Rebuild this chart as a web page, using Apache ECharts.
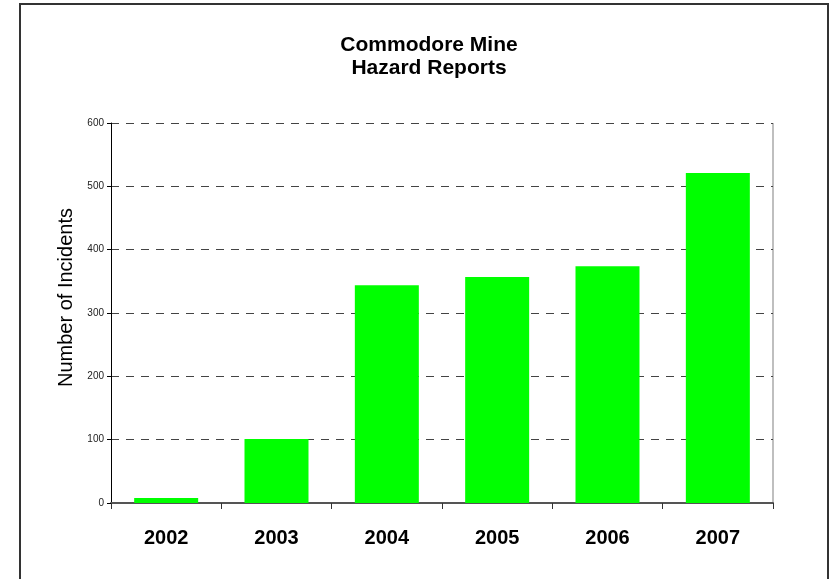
<!DOCTYPE html>
<html><head><meta charset="utf-8">
<script src="https://cdn.jsdelivr.net/npm/echarts@6/dist/echarts.min.js"></script>
<style>html,body{margin:0;padding:0;background:#fff}#c{width:829px;height:579px}</style>
</head><body><div id="c"></div>
<script>
const categories = ['2002','2003','2004','2005','2006','2007'];
const incidents = [8, 101, 344, 357, 374, 521];
const titleLines = ['Commodore Mine', 'Hazard Reports'];
const yName = 'Number of Incidents';

const chart = echarts.init(document.getElementById('c'));
chart.setOption({
  animation: false,
  backgroundColor: '#fff',
  title: {
    text: titleLines.join('\n'),
    left: 424, top: 29, textAlign: 'center',
    textStyle: {fontFamily: 'Liberation Sans, Arial', fontSize: 21, fontWeight: 'bold', color: '#000', lineHeight: 23}
  },
  graphic: [{
    type: 'rect', shape: {x: 20, y: 4, width: 808, height: 600},
    style: {fill: 'none', stroke: '#333', lineWidth: 2}, silent: true, z: -1
  }, {
    type: 'line', shape: {x1: 773, y1: 123, x2: 773, y2: 503},
    style: {stroke: '#aaa', lineWidth: 1.5}, silent: true
  }],
  grid: {left: 111, right: 56, top: 123, bottom: 76, containLabel: false},
  xAxis: {
    type: 'category', data: categories,
    axisLine: {lineStyle: {color: '#555', width: 2}},
    axisTick: {show: true, alignWithLabel: false, length: 6, lineStyle: {color: '#333'}},
    axisLabel: {margin: 25, fontFamily: 'Liberation Sans, Arial', fontSize: 20, fontWeight: 'bold', color: '#000'}
  },
  yAxis: {
    type: 'value', min: 0, max: 600, interval: 100,
    name: yName, nameLocation: 'middle', nameGap: 31, nameRotate: 90,
    nameTextStyle: {fontFamily: 'Liberation Sans, Arial', fontSize: 20, color: '#000', padding: [0, 0, 0, 31]},
    axisLine: {show: true, lineStyle: {color: '#000', width: 1}},
    axisTick: {show: true, length: 4, lineStyle: {color: '#000'}},
    axisLabel: {margin: 7, fontFamily: 'Liberation Sans, Arial', fontSize: 10, color: '#222'},
    splitLine: {show: true, lineStyle: {color: '#444', type: [8, 7], width: 1}}
  },
  series: [{
    type: 'bar', data: incidents, barWidth: '58%',
    itemStyle: {color: '#00ff00'}
  }]
});
</script></body></html>
